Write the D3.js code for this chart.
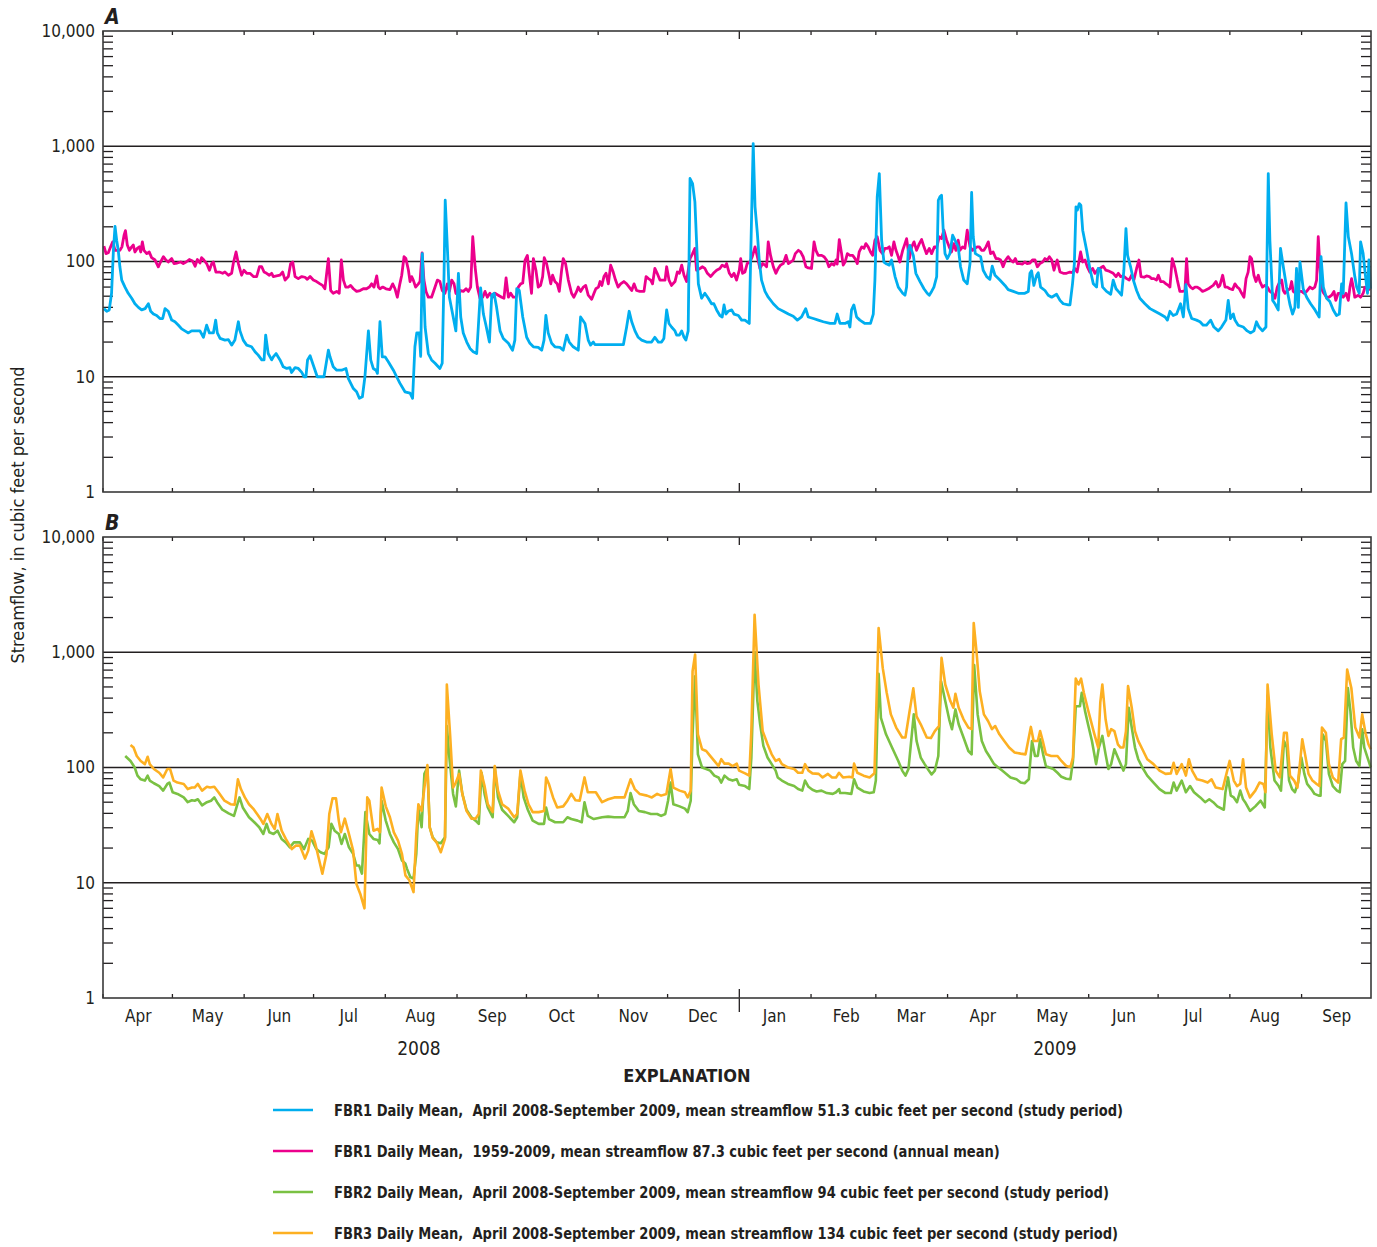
<!DOCTYPE html>
<html>
<head>
<meta charset="utf-8">
<script src="https://cdn.jsdelivr.net/npm/d3@7"></script>
<style>
  body { margin: 0; background: #fff; }
  text { font-family: "Liberation Sans Narrow", "DejaVu Sans Condensed", "Arial Narrow", sans-serif; fill: #231f20; }
</style>
</head>
<body>
<script>
// Daily mean streamflow, cubic feet per second
// each point = [days since 1 April 2008, value]

var fbr1Study = [[0.4,39],[1.6,37],[2.7,38],[3.7,53],[4.5,125],[5.2,202],[5.9,153],[6.6,125],[7.3,90],[8.1,69],[9.5,60],[10.9,53],[12.4,48],[13.8,43],[15.3,40],[16.7,38],[18.2,39],[19.6,43],[20.6,37],[21.8,35],[23.2,34],[24.6,32],[25.8,32],[26.8,39],[28.2,37],[29.7,31],[31.1,30],[32.6,28],[34,26],[35.4,25],[36.9,24],[38.3,25],[40.5,25],[41.9,25],[43.4,22],[44.8,28],[46,24],[47.7,24],[48.7,31],[49.4,24],[50.6,21.5],[52.7,20.8],[54.2,21],[55.6,18.8],[57,20.8],[58.5,30],[59.2,25],[60.6,20.8],[62.1,18.8],[64.2,18.2],[65.7,16.5],[67.1,15.4],[68.6,14],[69.6,14],[70.3,23],[71.4,15.9],[72.9,14],[73.6,14.9],[74.8,15.9],[76.5,14],[77.9,12.2],[79.4,11.8],[80.8,12],[81.5,10.9],[83,12],[84.4,11.8],[85.9,10.9],[86.9,10],[87.7,10],[88.4,14],[89.5,15.2],[90.9,12.6],[92.6,10],[93.8,10],[95.5,10],[97.4,17],[98.1,14.9],[99.5,12.2],[101,11.4],[103.1,11.4],[105,11.8],[106,9.7],[108.2,7.9],[109.6,7.4],[110.8,6.5],[112.1,6.7],[113.2,10],[114.7,25],[115.7,14],[116.8,11.8],[118,11.4],[118.6,10.7],[119.7,30],[120.7,14.9],[121.9,14.9],[123.3,13.5],[125.5,11.4],[126.9,10],[128.3,8.8],[130.5,7.4],[132.7,7.2],[133.8,6.5],[134.8,18.2],[135.6,24],[136.7,24],[137.3,15],[138,117],[139.2,27],[140.6,15.9],[142,14],[143.5,13.1],[144.9,12.2],[145.6,11.8],[146.6,13.1],[147.4,79],[147.9,340],[149,110],[149.7,49],[151.1,35],[152.5,25],[153.6,79],[154.6,33],[155.7,24],[157.2,20],[158.6,17.6],[160,16.5],[161.5,15.9],[162.2,27],[163.2,59],[164.4,35],[165.5,28],[167,20],[168,51],[169,53],[170.1,40],[171.6,25],[173,21.5],[175.2,19.5],[177,17],[178,20.8],[178.8,58],[179.9,56],[181.4,33],[183.1,22],[184.5,19.5],[186,18.2],[188.1,18],[189.6,17],[190.6,20.8],[191.4,34],[192.4,24],[193.9,19.5],[195.3,18.2],[197.5,18],[198.9,17],[200.4,23],[201.5,20],[203.2,18.2],[205.4,17],[206.4,33],[208.3,29],[209.7,20.8],[210.7,18.8],[211.9,20],[212.6,19],[214.8,19],[224.9,19],[226.3,27],[227.4,37],[228.5,30],[229.9,25],[231.3,22],[232.8,20.8],[234.9,20],[237.1,20],[238.5,22],[240,20],[241.4,20],[242.4,21.5],[243.6,38],[244.6,29],[245.7,27],[247.2,25],[247.9,23],[249.1,23],[250.1,25],[251.1,22],[251.9,20.8],[252.9,25],[253.7,525],[254.8,474],[255.8,329],[256.5,153],[257.3,64],[258.7,48],[260.1,53],[261.6,48],[263,43],[264,43],[265.2,38],[266.6,34],[267.6,33],[268.4,42],[269.2,35],[270.2,37],[271.7,38],[272.7,35],[274.6,34],[276,31],[277.4,31],[279.3,29],[280.3,244],[281,1054],[281.8,298],[282.8,175],[283.6,103],[284.6,69],[286.1,55],[287.5,49],[289.7,43],[291.8,39],[294,37],[296.2,35],[298.3,33.5],[300.1,31],[301.9,33],[303.7,39],[304.8,33],[307,32],[309.1,31],[311.3,30],[314.2,29],[316.3,29],[317.3,35],[318.5,29],[320.7,29],[322.1,30],[322.8,27],[323.5,38],[324.5,42],[325.7,33],[327.1,31],[329.3,29],[331.7,29],[332.9,35],[333.6,69],[334.6,364],[335.5,579],[336.5,153],[337.5,99],[338.7,95],[339.8,93],[340.8,103],[342.3,74],[343.7,60],[345.6,53],[346.6,51],[347.3,60],[348,125],[348.7,138],[350.2,113],[351.3,79],[353.1,67],[354.8,58],[356.2,53],[357.1,51],[358.1,55],[359.1,60],[360.3,74],[361,340],[361.7,364],[362.4,376],[363.1,190],[363.9,117],[364.9,106],[366,117],[367.2,169],[368.2,153],[369.6,134],[370.6,90],[372,69],[373.5,64],[374.7,96],[375.4,397],[376.1,164],[377,117],[378.3,113],[379.3,110],[380.4,84],[381.9,74],[383.3,70],[384.3,91],[385.5,76],[387.6,69],[389.8,62],[391.2,57],[393.4,55],[395.6,53],[398.4,53],[399.9,55],[400.6,79],[401.3,83],[402.3,62],[403.5,76],[404.2,80],[405.2,60],[407.1,56],[408.5,51],[410,49],[412.1,52],[413.6,46],[415,43],[417.2,42],[417.9,42],[419,64],[419.8,96],[420.5,298],[421.1,279],[421.9,318],[422.6,308],[423.4,187],[425.1,125],[426.5,87],[428,64],[429.4,60],[430.1,87],[431.1,84],[432,60],[433.7,55],[435.5,52],[436.6,69],[437.8,58],[438.8,55],[440.2,51],[441.2,84],[442.1,193],[442.8,113],[444.1,90],[445.3,69],[446.7,56],[448.1,48],[450.3,43],[452.5,39],[454.6,37],[456.8,35],[459,33],[460,31],[461.1,37],[462.5,34],[464,35],[465.7,43],[466.9,33],[468,63],[469,39],[470.5,32],[472.6,31],[474.1,30],[475.5,28],[476.9,28],[478.7,31],[480.1,27],[482,25],[483.4,27],[485.3,31],[486.3,46],[487.3,32],[488.5,35],[489.2,31],[490.6,28],[492.8,27],[494.5,25],[496,24],[497.4,25],[498.5,30],[499.6,27],[501.1,25],[502.6,27],[503.6,579],[504.3,153],[505.5,46],[506.5,43],[507.9,38],[508.9,130],[510.1,90],[511.5,60],[513,42],[514.1,35],[515.1,40],[515.8,87],[516.6,40],[517.3,99],[518.7,58],[520.2,49],[521.9,43],[523.8,38],[525.6,33],[526.4,110],[527.4,60],[528.8,48],[530.2,45],[531.7,38],[533.1,34],[534.3,35],[535.3,64],[536,53],[537.2,322],[538.2,164],[539.6,117],[541,74],[541.8,60],[542.9,53],[543.5,148],[544.6,117],[545.8,69],[546.5,53],[547.1,103],[547.8,58]];

var fbr1Annual = [[0.4,136],[1.3,117],[2.3,119],[3.3,134],[4.2,148],[5.2,125],[6.2,125],[7.3,125],[8.2,134],[9.1,169],[9.7,185],[10.5,139],[11.4,125],[12.4,134],[13.1,139],[13.8,121],[14.8,130],[15.7,134],[16.3,121],[17,148],[17.7,125],[18.9,117],[20,121],[21,108],[22.5,103],[23.9,90],[24.9,99],[26.1,110],[27.2,103],[28.2,99],[29,103],[29.7,106],[30.7,96],[32.1,97],[33.6,99],[34.7,96],[35.9,99],[37.3,104],[38.7,101],[39.8,91],[40.8,104],[41.9,97],[42.6,108],[43.6,103],[44.8,96],[46,84],[47,96],[47.7,99],[48.8,81],[50.3,81],[51.7,79],[52.7,81],[54.2,76],[55.6,79],[56.3,96],[57.5,121],[58.5,96],[59.9,76],[60.9,84],[62.1,79],[63.5,79],[65,74],[66.4,74],[67.6,90],[68.6,90],[69.6,81],[70.7,79],[71.9,76],[72.9,79],[73.6,74],[75,75],[76.5,76],[77.6,81],[78.7,69],[80.1,74],[81.1,96],[82,99],[83,74],[84.4,71],[85.9,74],[87.3,73],[88.3,70],[89.5,74],[90.9,69],[92.3,67],[93.8,64],[94.9,62],[95.9,58],[97.4,106],[98.4,56],[99.5,53],[101,55],[102.1,53],[103,103],[103.9,69],[104.9,60],[106,60],[107,62],[108.2,58],[109.6,55],[111.1,56],[112.5,58],[113.9,58],[115.1,60],[116.1,64],[117.1,60],[118.3,75],[119,60],[119.7,58],[120.9,60],[122.3,58],[124,57],[125.2,64],[126.2,58],[127.2,49],[128.3,64],[129.1,76],[130.1,110],[130.9,106],[132,84],[132.7,67],[133.4,74],[134.1,69],[135.1,60],[136.3,64],[137,67],[137.9,119],[138.7,69],[139.6,55],[140.6,49],[142,49],[143.5,60],[144.5,69],[145.6,67],[146.6,56],[147.8,53],[148.8,64],[149.7,55],[150.7,69],[151.7,64],[152.5,53],[153.6,51],[154.6,56],[155.7,55],[156.9,58],[157.9,55],[158.9,60],[159.8,164],[160.8,90],[161.8,60],[162.9,48],[164.1,49],[165.1,55],[166.1,49],[167.2,53],[168.4,49],[169.4,53],[170.8,51],[172.3,49],[173.3,48],[174.2,72],[175.2,49],[176.2,53],[177.3,49],[178.5,49],[179.5,60],[180.5,64],[181.4,65],[182.4,103],[183.4,113],[184.2,79],[185.2,53],[186,106],[187.1,84],[188.1,60],[189.1,62],[190,74],[190.7,108],[191.7,96],[192.9,74],[193.5,64],[194.3,76],[195.3,67],[196.3,64],[197.2,55],[198.2,84],[198.9,106],[199.9,96],[201.1,69],[202.5,53],[203.5,49],[204.7,55],[205.4,60],[206.4,55],[207.6,60],[208.6,62],[209.7,51],[211.2,47],[212.2,53],[213,58],[214.1,60],[214.8,67],[215.6,62],[216.5,74],[217.4,79],[218.4,64],[219.4,93],[220.5,81],[221.5,69],[222.6,60],[223.7,64],[225.1,67],[226.3,64],[227.4,60],[228.5,56],[229.5,64],[230.6,56],[232,55],[233.8,55],[234.7,74],[235.7,71],[236.7,69],[237.5,64],[238.5,87],[239.5,79],[240.7,69],[241.9,69],[242.9,69],[243.6,90],[244.6,69],[245.7,62],[247.2,67],[248.2,81],[249.1,79],[250.1,93],[251.1,76],[252.2,67],[253.7,106],[254.8,117],[255.8,130],[256.5,84],[258,87],[259.1,90],[260.1,87],[261.2,79],[262.6,74],[263.8,79],[265.2,84],[266.6,87],[267.6,93],[268.8,90],[269.5,96],[270.7,79],[271.7,74],[272.7,79],[273.8,69],[275,84],[275.6,106],[276.4,79],[277.4,81],[278.4,96],[279.6,99],[280.6,110],[281.8,134],[282.8,110],[283.9,87],[285.1,96],[286.1,93],[286.8,90],[287.5,148],[288.5,113],[289.7,90],[290.8,79],[291.8,87],[292.8,93],[294,96],[295.2,113],[296.2,96],[297.2,99],[298.3,103],[299.2,117],[300.5,125],[301.5,121],[302.6,110],[303.8,90],[304.8,88],[306.2,87],[307.3,148],[308.1,125],[309.1,113],[310.6,113],[311.6,110],[312.7,103],[313.7,90],[314.9,96],[315.9,93],[316.8,103],[317.3,95],[318.2,155],[319.2,117],[319.9,93],[320.7,99],[321.7,117],[322.8,113],[324,113],[325,106],[326,96],[326.8,121],[327.9,134],[328.9,130],[329.7,143],[330.7,134],[331.7,121],[332.6,113],[333.6,153],[334.6,164],[335.8,125],[336.9,117],[337.9,130],[338.9,130],[339.8,134],[340.8,113],[341.8,148],[342.7,125],[343.7,110],[344.4,99],[345.6,125],[346.6,143],[347.3,158],[348.5,106],[349.5,134],[350.5,148],[351.6,125],[352.8,143],[353.8,155],[354.8,134],[355.9,117],[357.1,130],[358.1,117],[359.3,134],[360.3,132],[361.4,164],[362.4,158],[363.4,187],[364.6,153],[365.7,134],[366.7,121],[367.7,143],[368.6,125],[369.6,153],[370.3,125],[371.5,134],[372.5,130],[373.5,187],[374.7,134],[375.8,125],[376.8,130],[377.8,134],[378.7,134],[379.7,125],[380.7,125],[381.6,134],[382.6,148],[383.6,117],[384.7,121],[385.9,106],[386.9,106],[387.9,103],[389,90],[390.1,103],[391.2,110],[392.2,103],[393.4,99],[394.3,106],[395.1,96],[396.3,96],[397.4,95],[398.4,99],[399.4,96],[400.6,97],[401.7,103],[402.8,103],[403.8,90],[404.9,96],[406.1,99],[407.1,106],[408.1,103],[409,110],[410,103],[411,84],[411.8,96],[412.4,103],[413.6,81],[415,79],[416.4,79],[417.9,81],[419,80],[420,87],[421,81],[421.9,103],[422.5,121],[423.4,99],[424.4,103],[425.4,90],[426.5,81],[427.7,87],[428.7,79],[429.7,84],[430.8,87],[432.3,91],[433.4,84],[434.4,83],[435.5,81],[436.6,79],[437.8,74],[438.8,79],[439.8,74],[440.9,75],[442.4,71],[443.5,69],[444.5,76],[445.5,69],[446.7,87],[447.7,103],[448.6,74],[449.9,73],[451,75],[452.2,74],[453.2,71],[454.2,71],[455.3,69],[456.1,76],[457.1,67],[458.2,67],[459.4,64],[460.4,62],[461.1,60],[462.1,106],[463.3,87],[464.3,69],[465.4,55],[466.6,55],[467.6,56],[468.3,106],[469,64],[470,60],[470.9,58],[471.9,60],[472.9,60],[474,58],[475.2,55],[476.2,56],[477.7,58],[478.7,60],[479.8,62],[481,67],[482,60],[482.7,62],[483.9,76],[484.9,60],[485.9,60],[487,58],[488.2,57],[489.2,64],[490.2,60],[491.1,58],[492.1,53],[493.1,49],[494,71],[494.9,81],[495.7,110],[496.4,106],[497.4,76],[498.3,67],[499.3,76],[500,67],[501.1,60],[502.1,62],[503.2,60],[504.3,55],[505.5,53],[506.5,48],[507.5,60],[508.6,67],[509.4,69],[510.1,56],[510.8,53],[511.8,56],[513,58],[513.7,67],[514.4,55],[515.5,53],[517,55],[518,55],[519,53],[520.2,55],[521.6,60],[522.7,58],[523.7,60],[524.5,69],[525.2,164],[526,84],[526.6,58],[527.6,53],[528.8,49],[529.9,49],[531,51],[532,55],[532.8,46],[533.8,53],[534.8,53],[536,49],[537.2,53],[538.2,46],[538.9,60],[539.6,71],[540.3,60],[541,49],[542.5,51],[543.5,49],[544.6,53],[545.4,60],[546.4,60],[547.5,56]];

var fbr2Study = [[9.6,126],[11.9,114],[13.7,100],[14.9,85],[16.3,79],[18.1,77],[19.3,85],[20.2,77],[22,73],[24.3,69],[26,63],[27.8,72],[28.7,74],[30.1,61],[32.2,59],[34.9,55],[36.6,50],[38.4,52],[39.6,51.5],[41,53],[42.8,47],[44.9,50],[46.7,51.5],[48.1,55],[49.3,50],[51.6,43],[54.3,40],[56.6,38],[58.1,48],[59,55],[60.4,45],[63.1,37],[65.4,33.5],[67.5,30.3],[69.3,26.5],[70.7,32.4],[71.9,27.4],[73.7,26.5],[75.4,28.3],[77.2,24],[79,22.4],[80.7,20.3],[82.5,22.4],[85.1,22.4],[86.9,19.6],[88.7,24],[90.4,23.2],[92.2,19.6],[94,18.4],[95.7,17.8],[97.5,20.3],[98.7,32.4],[100.1,28.3],[101.9,26.5],[103.1,21.7],[104.5,26.5],[106.3,20.3],[108.1,17.8],[109.5,14.1],[110.7,14.1],[111.9,12],[113.4,41],[115.1,26.5],[116.9,24],[118.7,23.5],[119.5,22],[120.4,51.5],[122.2,34.6],[124,26.5],[125.7,22.4],[127.5,19.6],[129.2,15.6],[130.7,14.6],[131.4,13.2],[132.8,11.2],[134.2,10.9],[135.4,17.8],[136.3,45],[137.7,30.3],[138.9,88],[140.2,100],[141.2,30.3],[142.5,24.8],[144.2,22.4],[146,22],[147.8,24.8],[148.6,229],[149.7,122],[151.3,59],[152.5,46],[153.9,94],[155.3,59],[157.1,43],[159.2,37],[161,34.6],[162.4,32.4],[163.6,90],[164.9,59],[166.3,45],[168.4,37],[169.3,100],[170.7,55],[172.5,43],[175.1,38],[177.7,33.5],[179,37],[180.4,88],[181.8,55],[183.6,43],[185.7,34.6],[188.3,32.4],[190.6,32.4],[191.5,45],[192.7,35.7],[195.4,33.5],[198.9,33.5],[200.7,37],[202.4,35.7],[205.1,34.6],[206.9,33.5],[208.1,50],[209.5,38],[212.1,35.7],[215.7,37],[218.3,37.5],[221,37],[225.4,37],[226.8,42],[228,60],[229.4,48],[231.6,42],[234.2,41],[236.8,39.5],[239.5,39.5],[241.2,38],[243,39.5],[244.2,51.5],[245.3,74],[246.5,48],[249.2,46],[251.5,44],[252.7,41],[254,51.5],[254.8,194],[255.9,620],[257.1,130],[258.9,100],[260.7,97],[262.4,94],[264.2,85],[266,82],[267.2,74],[268.6,85],[270.4,79],[272.1,77],[273.9,79],[274.9,71],[277.5,69],[279.3,65],[280.2,122],[281.6,1000],[282.8,377],[284,237],[285.4,154],[287.2,122],[289,107],[290.7,94],[291.6,82],[293.4,77],[296,72],[298.7,69],[300.4,65],[302.2,63],[303.4,77],[304.9,68],[306.6,64],[308.4,62],[310.5,63],[312.8,60],[315.4,59],[316.8,61],[318.1,65],[318.6,60],[320.7,60],[323.4,59],[324.6,79],[326,67],[328.7,62],[331.3,60],[333.1,61],[334,77],[335.2,650],[336.2,270],[338.4,194],[341,149],[343.7,114],[345.4,94],[346.8,85],[348.1,97],[350.4,289],[351.6,170],[353.4,122],[355.1,107],[356.9,94],[358.1,87],[359.5,94],[361,126],[362.2,560],[364,377],[365.7,262],[366.9,215],[368.4,319],[369.8,237],[371.9,182],[374,139],[375.4,130],[376.5,775],[378,289],[379.8,170],[381.6,139],[383.4,122],[385.1,107],[386.9,100],[388.6,94],[390.4,88],[392.2,82],[394.8,79],[396.6,74],[398.3,73],[400.1,79],[401.5,170],[402.8,126],[404,126],[405,176],[406.3,130],[407.5,103],[408.9,100],[410.7,97],[412.5,90],[414.2,83],[416.3,80],[418.1,79],[419.2,114],[420.4,340],[422.2,340],[423,445],[424.4,310],[425.7,237],[427.4,170],[429.2,107],[430.4,149],[431.9,188],[433.3,130],[434.5,97],[435.7,107],[437.1,144],[438.6,122],[439.8,107],[441,94],[442.1,107],[443.3,330],[444.6,222],[446,149],[447.4,118],[449.2,100],[451.3,85],[454,74],[456.6,65],[459.2,60],[461.5,60],[462.7,74],[464,63],[466.2,77],[468,61],[469.8,69],[471.5,61],[474.2,55],[476.3,50],[478.1,53],[479.8,50],[481.6,46],[484.4,43],[485.1,61],[486.2,82],[487.4,57],[488.7,55],[490.1,50],[491.5,63],[492.7,53],[493.6,50],[495.7,42],[498,46],[500.3,51.5],[502.1,45],[503.3,420],[504.5,149],[506.3,77],[508.1,69],[509.1,63],[510.4,170],[511.6,149],[512.6,77],[513.9,65],[515.1,61],[516.5,74],[517.9,122],[519.2,88],[520.4,72],[522.2,65],[523.6,59],[525.4,57],[526.2,57],[527.1,194],[528.5,170],[529.8,88],[531.5,69],[533.3,63],[534.5,61],[535.6,107],[536.8,114],[538,490],[539.1,309],[540.3,149],[541.6,114],[543,103],[544.2,215],[545.1,149],[546.5,122],[547.9,100]];

var fbr3Study = [[11.9,157],[13.2,149],[14.6,126],[16.3,114],[18.1,107],[19.3,124],[20.2,107],[22,97],[24.3,90],[26,82],[27.8,97],[29,97],[30.5,77],[32.2,74],[34.9,72],[36.6,65],[38.4,67],[39.6,67],[41,72],[42.8,63],[44.9,68],[46.3,67],[48.1,68],[49.9,61],[52.5,51.5],[55.1,48],[56.9,47.5],[58.3,79],[59.6,65],[61.3,55],[63.1,48],[64.9,44],[66.6,39.5],[68,36],[69.3,32.4],[71,39.5],[72.8,32.4],[74.2,29.3],[75.4,39.5],[77.2,28.3],[79,24],[81.6,19.6],[83.4,21],[85.1,21],[87.3,16.2],[88.7,19],[90.1,28],[91.8,21.7],[93.1,16.7],[94.8,12],[96.6,17.8],[97.8,39.5],[99.2,54],[100.7,54],[101.9,34.6],[102.8,27.4],[104.5,36],[106.3,26.5],[108.1,19],[109.5,9.8],[111.2,8],[113,6],[114.2,55],[115.1,51.5],[116.9,28.3],[118.7,29.3],[119.7,27.4],[120.4,67],[122.2,46],[124,37],[125.7,27.4],[127.5,23.2],[129.2,17.8],[130.7,11.6],[132.4,10.5],[134.2,8.3],[135.4,26.5],[136.3,48],[137.7,42],[138.9,67],[140.2,105],[141.2,30.3],[142.5,24.4],[144.2,22.4],[146,18.4],[147.8,24],[148.6,525],[150,194],[151.3,67],[152.5,74],[153.9,88],[155.3,59],[157.1,42],[159.2,36],[161,36],[162.4,39.5],[163.3,94],[164.9,69],[166.3,48],[168.4,41],[169.3,103],[170.7,63],[172.5,48],[175.1,44],[177.7,37],[179,39.5],[180.4,94],[182.2,63],[183.9,48],[185.7,41],[188.3,41],[190.6,42],[191.5,82],[192.7,72],[194.5,55],[196.3,45],[198.9,46],[200.7,51.5],[202.4,59],[204.2,52],[206,51.5],[208.1,82],[209.5,61],[213,61],[215.7,50],[218.3,53],[221,55],[225.4,55],[228,79],[229.8,65],[231.9,59],[235.1,57],[237.2,55],[239.5,59],[241.2,57],[243.5,59],[245.3,97],[246.5,67],[249.2,63],[251.5,61],[252.7,55],[254,63],[254.8,686],[255.9,955],[257.1,194],[258.9,144],[260.7,139],[262.4,126],[264.2,114],[266,103],[267.2,118],[268.6,108],[270.4,108],[272.1,103],[273.9,108],[274.9,94],[277.5,89],[279.3,85],[280.2,207],[281.6,2118],[283.3,525],[285.1,207],[287.2,159],[289,130],[290.7,114],[292.2,118],[293.4,107],[296,100],[298.7,97],[300.4,90],[302.2,90],[303.4,107],[304.9,94],[306.6,89],[309.3,88],[311,82],[313.3,88],[315.1,82],[316.8,82],[318.1,90],[319.8,82],[322.5,83],[323.9,82],[324.6,108],[326,90],[328.7,85],[331.3,82],[333.4,89],[335.2,1624],[337,728],[338.7,445],[340.5,289],[342.8,222],[345.4,182],[346.8,182],[348.6,309],[350.2,486],[351.6,278],[353.4,237],[356,182],[357.8,180],[359.5,207],[361.3,229],[362.4,893],[364,525],[366.2,377],[367.5,330],[368.4,436],[369.8,330],[371.9,262],[374,222],[375.4,215],[376.3,1795],[377.5,1018],[378.9,460],[380.7,289],[382.5,253],[384.2,215],[385.6,229],[387.4,194],[389.5,170],[391.6,149],[394,135],[396.6,132],[398.7,130],[401,225],[402.2,170],[404,170],[405,207],[406.3,165],[407.5,130],[409.8,126],[412.5,126],[414.2,114],[416.3,103],[418.1,101],[419.2,122],[420.4,590],[421.6,525],[422.7,590],[423.9,445],[425.7,317],[428.3,200],[430.1,149],[431,365],[431.9,525],[433.3,262],[434.5,188],[435.7,215],[437.1,207],[438.6,159],[439.8,149],[441,149],[442.1,207],[443,510],[444.6,330],[446,207],[447.4,170],[449.2,144],[451.3,118],[454,107],[456.6,94],[459.2,88],[461.5,89],[462.7,110],[464,88],[466.2,107],[468,85],[469.3,118],[470.7,94],[472.8,79],[475.1,77],[477.4,74],[479.1,79],[480.9,67],[483.9,65],[484.8,77],[486.9,114],[488.7,77],[490.1,69],[491.5,72],[492.7,118],[494,67],[495.7,55],[498,63],[499.8,74],[501.5,72],[502.4,61],[503.3,525],[505.1,194],[506.8,94],[508.6,82],[510.4,200],[511.6,200],[513,85],[514.8,77],[516.2,67],[517.4,114],[518.3,176],[519.5,130],[521,88],[522.7,77],[524.5,72],[525.7,69],[526.8,222],[528.5,200],[529.8,107],[531.5,82],[533.8,74],[535.1,176],[536.3,182],[537.7,708],[539.5,490],[541.2,222],[543,182],[544.2,289],[545.6,200],[546.9,159],[547.9,144]];

var yTickValues = [1, 10, 100, 1000, 10000];
var legendLabels = [
  "FBR1 Daily Mean,  April 2008-September 2009, mean streamflow 51.3 cubic feet per second (study period)",
  "FBR1 Daily Mean,  1959-2009, mean streamflow 87.3 cubic feet per second (annual mean)",
  "FBR2 Daily Mean,  April 2008-September 2009, mean streamflow 94 cubic feet per second (study period)",
  "FBR3 Daily Mean,  April 2008-September 2009, mean streamflow 134 cubic feet per second (study period)"
];
var colors = ["#00aeef", "#ec008c", "#7ac143", "#fdb022"];

// layout
var W = 1377, H = 1247;
var plotLeft = 103, plotRight = 1371;
var panels = [
  {top: 31, bottom: 492, label: "A", series: [[fbr1Annual, colors[1]], [fbr1Study, colors[0]]]},
  {top: 537, bottom: 998, label: "B", series: [[fbr2Study, colors[2]], [fbr3Study, colors[3]]]}
];

var start = new Date(2008, 3, 1), end = new Date(2009, 9, 1);
function toDate(day) { return new Date(start.getTime() + day * 864e5); }

var x = d3.scaleTime().domain([start, end]).range([plotLeft, plotRight]);
var months = d3.timeMonth.range(start, end);
var yearStart = new Date(2009, 0, 1);

var svg = d3.select("body").append("svg")
    .attr("width", W)
    .attr("height", H);

panels.forEach(function(p, pi) {
  var y = d3.scaleLog().domain([1, 10000]).range([p.bottom, p.top]);
  var g = svg.append("g");

  // gridlines at 10, 100, 1000
  g.selectAll(".grid").data([10, 100, 1000]).enter().append("line")
    .attr("x1", plotLeft).attr("x2", plotRight)
    .attr("y1", function(d) { return y(d); }).attr("y2", function(d) { return y(d); })
    .style("stroke", "#231f20").style("stroke-width", 1.3);

  // minor ticks (2..9 in each decade), left and right, pointing in
  var minor = [];
  [1, 10, 100, 1000].forEach(function(dec) {
    for (var k = 2; k <= 9; k++) minor.push(dec * k);
  });
  g.selectAll(".mtl").data(minor).enter().append("line")
    .attr("x1", plotLeft).attr("x2", plotLeft + 10)
    .attr("y1", function(d) { return y(d); }).attr("y2", function(d) { return y(d); })
    .style("stroke", "#231f20").style("stroke-width", 1.3);
  g.selectAll(".mtr").data(minor).enter().append("line")
    .attr("x1", plotRight - 10).attr("x2", plotRight)
    .attr("y1", function(d) { return y(d); }).attr("y2", function(d) { return y(d); })
    .style("stroke", "#231f20").style("stroke-width", 1.3);

  // month ticks, top and bottom, inward
  g.selectAll(".tt").data(months).enter().append("line")
    .attr("x1", function(d) { return x(d); }).attr("x2", function(d) { return x(d); })
    .attr("y1", p.top)
    .attr("y2", function(d) { return p.top + (+d === +yearStart ? 8 : 4); })
    .style("stroke", "#231f20").style("stroke-width", 1.3);
  g.selectAll(".tb").data(months).enter().append("line")
    .attr("x1", function(d) { return x(d); }).attr("x2", function(d) { return x(d); })
    .attr("y1", function(d) { return p.bottom - (+d === +yearStart ? 9 : 4); })
    .attr("y2", function(d) { return (+d === +yearStart && pi === 1) ? p.bottom + 14 : p.bottom; })
    .style("stroke", "#231f20").style("stroke-width", 1.3);

  // series lines
  var line = d3.line()
    .x(function(d) { return x(toDate(d[0])); })
    .y(function(d) { return y(d[1]); });
  p.series.forEach(function(s) {
    g.append("path").datum(s[0])
      .attr("d", line)
      .style("fill", "none")
      .style("stroke", s[1])
      .style("stroke-width", pi === 0 ? 2.8 : 2.6)
      .style("stroke-linejoin", "round");
  });

  // frame
  g.append("rect")
    .attr("x", plotLeft).attr("y", p.top)
    .attr("width", plotRight - plotLeft).attr("height", p.bottom - p.top)
    .style("fill", "none").style("stroke", "#3a3a3a").style("stroke-width", 1.6);

  // y axis labels
  var yAxis = d3.axisLeft(y).tickValues(yTickValues).tickSize(0).tickPadding(8)
    .tickFormat(d3.format(","));
  var ax = g.append("g").attr("transform", "translate(" + plotLeft + ",0)").call(yAxis);
  ax.select(".domain").remove();
  ax.selectAll("text").style("font-size", "17px").style("font-family", null);

  // panel label
  g.append("text")
    .attr("x", 105).attr("y", p.top - 7)
    .style("font-size", "21px").style("font-weight", "bold").style("font-style", "italic")
    .text(p.label);
});

// month labels under panel B
var mids = months.map(function(m) { return new Date(m.getFullYear(), m.getMonth(), 16); });
var xAxis = d3.axisBottom(x).tickValues(mids).tickSize(0).tickPadding(12)
  .tickFormat(d3.timeFormat("%b"));
var xa = svg.append("g").attr("transform", "translate(0,998)").call(xAxis);
xa.select(".domain").remove();
xa.selectAll("text").style("font-size", "17px").style("font-family", null);

svg.append("text").attr("x", 419).attr("y", 1055).attr("text-anchor", "middle")
  .style("font-size", "19px").text("2008");
svg.append("text").attr("x", 1055).attr("y", 1055).attr("text-anchor", "middle")
  .style("font-size", "19px").text("2009");

// y axis title
svg.append("text")
  .attr("transform", "translate(24,515) rotate(-90)")
  .attr("text-anchor", "middle")
  .style("font-size", "18px")
  .text("Streamflow, in cubic feet per second");

// explanation
svg.append("text").attr("x", 687).attr("y", 1082).attr("text-anchor", "middle")
  .style("font-size", "18px").style("font-weight", "bold").text("EXPLANATION");

// legend rows, squeezed to the condensed width of the original type
var legendText = [];
legendLabels.forEach(function(t, i) {
  var yy = 1110 + i * 41;
  svg.append("line").attr("x1", 273).attr("x2", 313).attr("y1", yy).attr("y2", yy)
    .style("stroke", colors[i]).style("stroke-width", 2.6);
  legendText.push(svg.append("text").attr("x", 334).attr("y", yy + 6)
    .style("font-size", "16px").style("font-weight", "bold").style("white-space", "pre").text(t));
});
var squeeze = 789 / legendText[0].node().getComputedTextLength();
legendText.forEach(function(t) {
  t.attr("textLength", t.node().getComputedTextLength() * squeeze)
   .attr("lengthAdjust", "spacingAndGlyphs");
});
</script>
</body>
</html>
